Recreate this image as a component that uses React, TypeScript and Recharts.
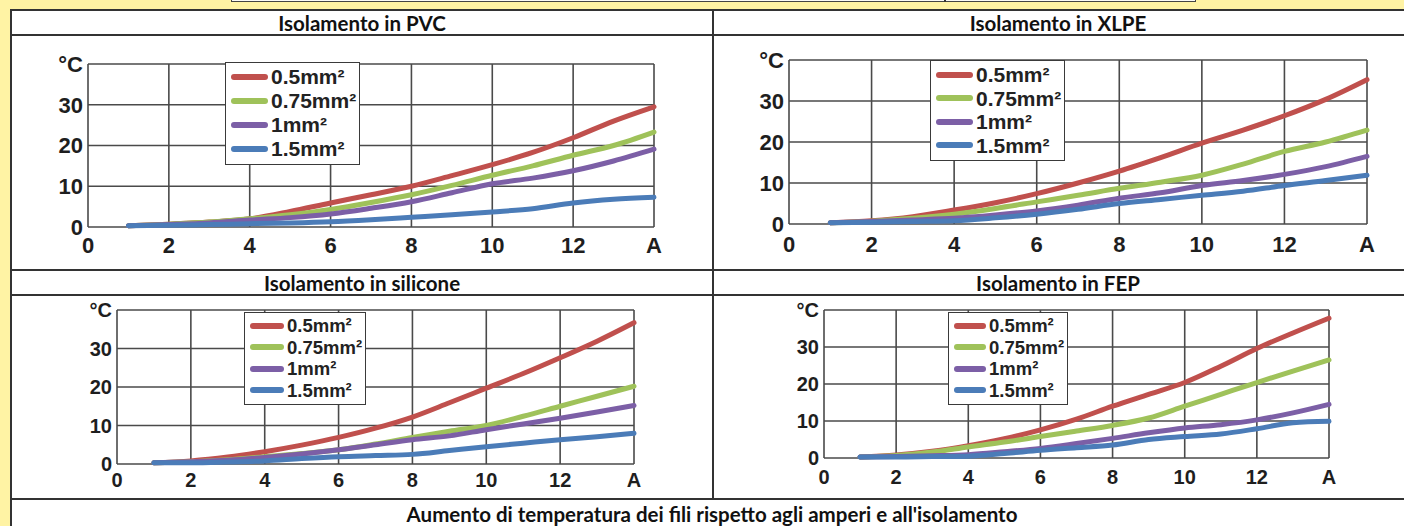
import React from 'react';
import { LineChart, Line, XAxis, YAxis, CartesianGrid, Legend } from 'recharts';

const currents = [1, 2, 3, 4, 5, 6, 7, 8, 9, 10, 11, 12, 13, 14];
const sectionNames = ['0.5mm²', '0.75mm²', '1mm²', '1.5mm²'];
const sectionColors = ['#c0504d', '#9fc25a', '#7c5fa6', '#4b7cb8'];
const xTicks = [0, 2, 4, 6, 8, 10, 12, 14];
const xTickLabels = ['0', '2', '4', '6', '8', '10', '12', 'A'];
const yTicks = [0, 10, 20, 30, 40];
const yTickLabels = ['0', '10', '20', '30', '°C'];
const panelTitles = ['Isolamento in PVC', 'Isolamento in XLPE', 'Isolamento in silicone', 'Isolamento in FEP'];
const caption = "Aumento di temperatura dei fili rispetto agli amperi e all'isolamento";

// PVC
const pvc05 = [0.3, 0.7, 1.2, 2.0, 3.8, 5.9, 7.9, 10.0, 12.6, 15.3, 18.3, 21.9, 26.0, 29.5];
const pvc075 = [0.3, 0.7, 1.2, 2.0, 3.0, 4.3, 6.0, 7.9, 10.2, 12.7, 15.0, 17.6, 20.0, 23.3];
const pvc1 = [0.3, 0.6, 1.0, 1.7, 2.3, 3.2, 4.6, 6.2, 8.4, 10.6, 12.0, 13.8, 16.2, 19.1];
const pvc15 = [0.3, 0.4, 0.6, 0.8, 1.0, 1.3, 1.8, 2.4, 3.0, 3.7, 4.5, 5.9, 6.8, 7.3];
// XLPE
const xlpe05 = [0.3, 0.8, 1.8, 3.4, 5.2, 7.4, 10.0, 12.9, 16.2, 19.7, 22.9, 26.4, 30.4, 35.2];
const xlpe075 = [0.3, 0.7, 1.4, 2.4, 3.8, 5.4, 7.0, 8.7, 10.2, 11.9, 14.6, 17.7, 20.0, 22.9];
const xlpe1 = [0.3, 0.6, 1.0, 1.4, 2.2, 3.2, 4.6, 6.3, 7.6, 9.4, 10.6, 12.1, 14.0, 16.5];
const xlpe15 = [0.3, 0.4, 0.6, 0.8, 1.5, 2.4, 3.6, 5.0, 6.0, 7.0, 8.0, 9.4, 10.6, 11.9];
// Silicone
const sil05 = [0.3, 0.8, 1.8, 3.2, 4.9, 6.9, 9.3, 12.2, 15.9, 19.7, 23.5, 27.6, 31.9, 36.7];
const sil075 = [0.3, 0.6, 1.1, 1.9, 2.7, 3.7, 5.2, 6.9, 8.5, 10.0, 12.4, 15.0, 17.6, 20.2];
const sil1 = [0.3, 0.6, 1.0, 1.7, 2.6, 3.7, 5.0, 6.3, 7.3, 8.9, 10.4, 11.9, 13.5, 15.2];
const sil15 = [0.3, 0.3, 0.5, 0.8, 1.4, 1.9, 2.2, 2.5, 3.5, 4.5, 5.4, 6.3, 7.1, 8.0];
// FEP
const fep05 = [0.3, 0.8, 1.8, 3.3, 5.2, 7.6, 10.5, 14.0, 17.2, 20.4, 24.8, 29.6, 33.8, 37.8];
const fep075 = [0.3, 0.7, 1.6, 3.0, 4.3, 5.8, 7.3, 8.8, 10.8, 14.0, 17.2, 20.4, 23.5, 26.5];
const fep1 = [0.3, 0.4, 0.6, 0.9, 1.7, 2.6, 3.9, 5.3, 6.8, 8.1, 9.0, 10.3, 12.2, 14.5];
const fep15 = [0.3, 0.3, 0.4, 0.5, 1.2, 2.1, 2.8, 3.5, 5.0, 5.8, 6.5, 7.9, 9.5, 9.9];

const chartFont = "'Liberation Sans', Arial, sans-serif";
const tableFont = "Lato, 'Open Sans', sans-serif";
const lineColor = '#333';
const gridColor = '#4a4a4a';

type Rect = { x: number; y: number; w: number; h: number };

function makeLegend(fontSize: number, row: number, swatch: number) {
  return (props: any) => {
    const items = [...(props.payload || [])].sort(
      (a: any, b: any) => sectionNames.indexOf(a.value) - sectionNames.indexOf(b.value)
    );
    return (
      <div
        style={{
          display: 'inline-block',
          background: '#fff',
          border: '1.5px solid #3a3a3a',
          padding: '2px 3px 3px 5px',
          fontFamily: chartFont,
          fontWeight: 700,
          fontSize,
          color: '#222',
          lineHeight: row + 'px',
        }}
      >
        {items.map((p: any) => (
          <div key={p.value} style={{ display: 'flex', alignItems: 'center', whiteSpace: 'nowrap', height: row }}>
            <span
              style={{
                display: 'inline-block',
                width: swatch,
                height: 6,
                background: p.color,
                borderRadius: 3,
                marginRight: 3,
              }}
            />
            <span>{p.value}</span>
          </div>
        ))}
      </div>
    );
  };
}

function Panel(props: {
  series: number[][];
  plot: Rect;
  legendAt: { x: number; y: number };
  axisFont: number;
  legendFont: number;
  legendRow: number;
  swatch: number;
  xGap: number;
}) {
  const { series, plot, legendAt, axisFont, legendFont, legendRow, swatch, xGap } = props;
  const ML = 60, MT = 24, MR = 30, XH = 40;
  const data = currents.map((a, i) => ({ a, s0: series[0][i], s1: series[1][i], s2: series[2][i], s3: series[3][i] }));
  const width = plot.w + ML + MR;
  const height = plot.h + MT + XH;
  const left = plot.x - ML;
  const top = plot.y - MT;
  const tickStyle = { fill: '#1e1e1e', fontSize: axisFont, fontWeight: 700, fontFamily: chartFont };
  return (
    <div style={{ position: 'absolute', left, top }}>
      <LineChart width={width} height={height} data={data} margin={{ top: MT, right: MR, left: 0, bottom: 0 }}>
        <CartesianGrid stroke={gridColor} strokeWidth={1.6} />
        <XAxis
          dataKey="a"
          type="number"
          domain={[0, 14]}
          ticks={xTicks}
          interval={0}
          tickFormatter={(v: number) => xTickLabels[xTicks.indexOf(v)]}
          axisLine={false}
          tickLine={false}
          tickSize={6}
          tickMargin={xGap}
          height={XH}
          tick={tickStyle}
        />
        <YAxis
          type="number"
          domain={[0, 40]}
          ticks={yTicks}
          interval={0}
          tickFormatter={(v: number) => yTickLabels[yTicks.indexOf(v)]}
          axisLine={false}
          tickLine={false}
          tickSize={3}
          tickMargin={2}
          width={ML}
          tick={tickStyle}
        />
        <Legend
          layout="vertical"
          verticalAlign="middle"
          align="center"
          itemSorter={null as any}
          wrapperStyle={{ left: legendAt.x - left, top: legendAt.y - top, width: 'auto' }}
          content={makeLegend(legendFont, legendRow, swatch)}
        />
        {series.map((s, k) => (
          <Line
            key={k}
            type="monotone"
            dataKey={'s' + k}
            name={sectionNames[k]}
            stroke={sectionColors[k]}
            strokeWidth={5}
            strokeLinecap="round"
            dot={false}
            isAnimationActive={false}
          />
        ))}
      </LineChart>
    </div>
  );
}

const hLine = (y: number, x1: number, x2: number) => (
  <div style={{ position: 'absolute', left: x1, top: y - 1, width: x2 - x1, height: 2, background: lineColor }} />
);
const vLine = (x: number, y1: number, y2: number) => (
  <div style={{ position: 'absolute', left: x - 1, top: y1, width: 2, height: y2 - y1, background: lineColor }} />
);

const titleStyle = (cx: number, cy: number): React.CSSProperties => ({
  position: 'absolute',
  left: cx - 400,
  width: 800,
  top: cy - 12,
  height: 24,
  lineHeight: '24px',
  textAlign: 'center',
  fontFamily: tableFont,
  fontWeight: 700,
  fontSize: 20.5,
  color: '#111',
});

export default function App() {
  return (
    <div style={{ position: 'absolute', left: 0, top: 0, width: 1404, height: 526, overflow: 'hidden', background: '#fff3a4' }}>
      {/* previous table row strip */}
      <div style={{ position: 'absolute', left: 231, top: -10, width: 965, height: 12, background: '#fbfbf6', border: '1.5px solid #444', boxSizing: 'border-box' }} />
      {vLine(945, 0, 2)}
      {/* table */}
      <div style={{ position: 'absolute', left: 11, top: 10, width: 1393, height: 516, background: '#fff' }} />
      {hLine(10, 10, 1404)}
      {hLine(35, 10, 1404)}
      {hLine(270, 10, 1404)}
      {hLine(295, 10, 1404)}
      {hLine(499, 10, 1404)}
      {vLine(11, 9, 526)}
      {vLine(713, 9, 499)}
      <div style={titleStyle(362, 22.5)}>{panelTitles[0]}</div>
      <div style={titleStyle(1058, 22.5)}>{panelTitles[1]}</div>
      <div style={titleStyle(362, 282.5)}>{panelTitles[2]}</div>
      <div style={titleStyle(1058, 282.5)}>{panelTitles[3]}</div>
      <div style={titleStyle(712, 514)}>{caption}</div>

      <Panel
        series={[pvc05, pvc075, pvc1, pvc15]}
        plot={{ x: 88, y: 64, w: 566, h: 163 }}
        legendAt={{ x: 225, y: 62 }}
        axisFont={22}
        legendFont={21}
        legendRow={24}
        swatch={37}
        xGap={4}
      />
      <Panel
        series={[xlpe05, xlpe075, xlpe1, xlpe15]}
        plot={{ x: 789, y: 60, w: 578, h: 164 }}
        legendAt={{ x: 930, y: 60 }}
        axisFont={22}
        legendFont={21}
        legendRow={23.5}
        swatch={37}
        xGap={6}
      />
      <Panel
        series={[sil05, sil075, sil1, sil15]}
        plot={{ x: 117, y: 310, w: 517, h: 154 }}
        legendAt={{ x: 244, y: 312 }}
        axisFont={20}
        legendFont={18.5}
        legendRow={21.5}
        swatch={34}
        xGap={3}
      />
      <Panel
        series={[fep05, fep075, fep1, fep15]}
        plot={{ x: 824, y: 310, w: 505, h: 148 }}
        legendAt={{ x: 948, y: 312 }}
        axisFont={20}
        legendFont={18.5}
        legendRow={21.5}
        swatch={32}
        xGap={6}
      />
    </div>
  );
}
